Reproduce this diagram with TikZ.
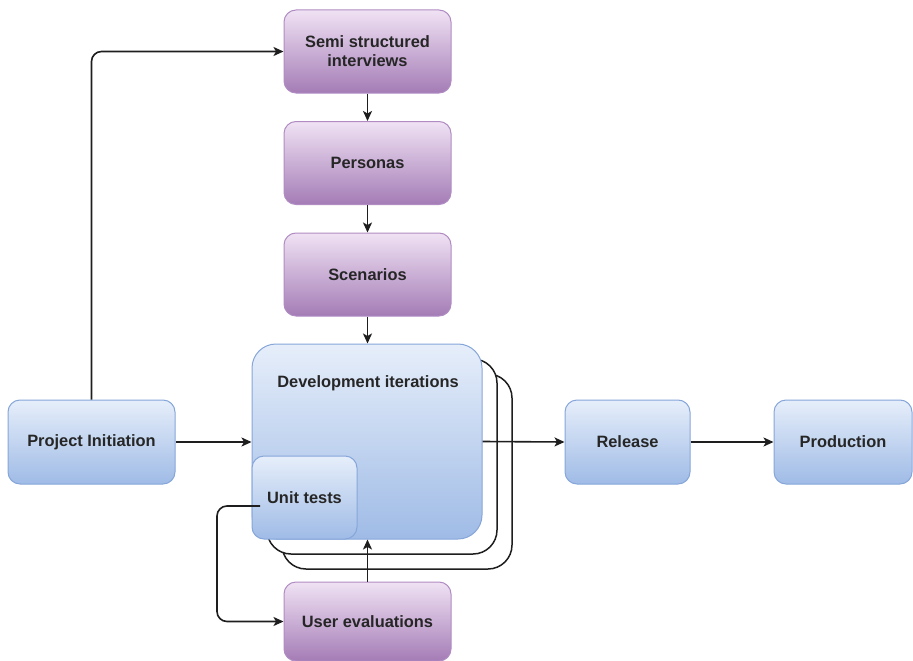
\documentclass[tikz,border=0pt]{standalone}
\usepackage{fontspec}
\setmainfont{Liberation Sans}
\usetikzlibrary{arrows.meta}

\definecolor{bluetop}{HTML}{E6EEFA}
\definecolor{bluebot}{HTML}{9FBBE6}
\definecolor{bluedraw}{HTML}{86A6DA}
\definecolor{purptop}{HTML}{F0E2F4}
\definecolor{purpbot}{HTML}{A47CB6}
\definecolor{purpdraw}{HTML}{B08CC2}
\definecolor{textcol}{HTML}{262626}
\definecolor{linecol}{HTML}{1E1E1E}

\tikzset{
  box/.style={rounded corners=12pt, line width=1pt, inner sep=0pt,
    font=\bfseries\fontsize{16.4}{19}\selectfont, text=textcol, align=center},
  bluebox/.style={box, draw=bluedraw, top color=bluetop, bottom color=bluebot},
  purpbox/.style={box, draw=purpdraw, top color=purptop, bottom color=purpbot},
  stackbox/.style={rounded corners=24pt, draw=linecol, fill=white, line width=1.5pt,
    minimum width=230pt, minimum height=195pt, inner sep=0pt},
  conn/.style={draw=linecol, line width=1.6pt, -{Stealth[length=10pt,width=9pt,inset=2.5pt]}},
  lbl/.style={font=\bfseries\fontsize{16.4}{19}\selectfont, text=textcol, inner sep=0pt},
}

\begin{document}
\begin{tikzpicture}[x=1pt, y=-1pt]
\useasboundingbox (0,0) rectangle (913,661);

% stacked iterations behind the main block
\node[stackbox] (stacktwo) at (397,471.5) {};
\node[stackbox] (stackone) at (382,456.5) {};

% main blocks
\node[bluebox, rounded corners=24pt, minimum width=230pt, minimum height=195pt] (dev) at (367,441.5) {};
\node[lbl] (devtext) at (368,383) {Development iterations};
\node[bluebox, minimum width=105pt, minimum height=83pt] (unit) at (304.5,497.5) {Unit tests};

\node[bluebox, minimum width=167pt, minimum height=84pt] (proj) at (91.5,442) {Project Initiation};
\node[bluebox, minimum width=125pt, minimum height=84pt] (rel) at (627.5,442) {Release};
\node[bluebox, minimum width=138pt, minimum height=84pt] (prod) at (843,442) {Production};

\node[purpbox, minimum width=167pt, minimum height=83pt] (semi) at (367.5,51.5) {Semi structured\\interviews};
\node[purpbox, minimum width=167pt, minimum height=83pt] (pers) at (367.5,163) {Personas};
\node[purpbox, minimum width=167pt, minimum height=83pt] (scen) at (367.5,274.5) {Scenarios};
\node[purpbox, minimum width=167pt, minimum height=79pt] (ue) at (367.5,621.5) {User evaluations};

% connectors
\draw[conn, rounded corners=10pt] (proj.north) |- (semi.west);
\draw[conn] (semi) -- (pers);
\draw[conn] (pers) -- (scen);
\draw[conn] (scen.south) -- (scen.south |- dev.north);
\draw[conn] (proj) -- (dev.west |- proj.east);
\draw[conn] (dev.east) -- (rel.west);
\draw[conn] (rel) -- (prod);
\draw[conn] (ue.north) -- (ue.north |- dev.south);

\coordinate (utstart) at (260,506);
\coordinate (utbend) at (217,506);
\draw[conn, rounded corners=10pt] (utstart) -- (utbend) -- (utbend |- ue.west) -- (ue.west);
\end{tikzpicture}
\end{document}
